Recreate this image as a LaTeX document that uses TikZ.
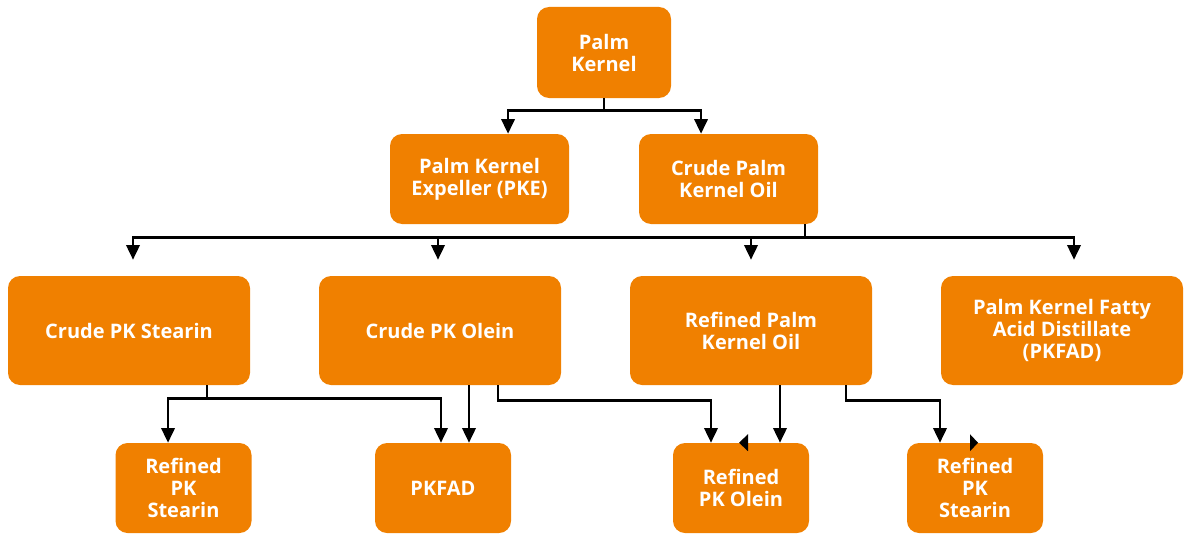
\documentclass[tikz,border=0pt]{standalone}
\usepackage{fontspec}
\setmainfont{Open Sans}
\usetikzlibrary{arrows.meta,positioning}
\definecolor{naranja}{RGB}{240,128,0}
\tikzset{
  caja/.style={fill=naranja, rounded corners=9pt, text=white, align=center, inner sep=2pt, font=\bfseries\fontsize{15}{16.5}\selectfont},
  raiz/.style={caja, minimum width=100.5pt, minimum height=68.25pt},
  medio/.style={caja, minimum width=134.25pt, minimum height=67.5pt},
  ancho/.style={caja, minimum width=181.5pt, minimum height=81.75pt},
  hoja/.style={caja, minimum width=102pt, minimum height=67.5pt},
  linea/.style={line width=1.9pt, black},
  fl/.style={linea, -{Triangle[length=11pt,width=10pt]}},
}
\begin{document}
\begin{tikzpicture}[x=0.75pt, y=-0.75pt]
  \useasboundingbox (0,0) rectangle (1184,535);
  % nodes
  \node[raiz] (palm) at (604,52.5) {Palm\\Kernel};
  \node[medio] (pke) at (479.5,179) {Palm Kernel\\Expeller (PKE)};
  \node[medio] (cpko) at (728.5,179) {Crude Palm\\Kernel Oil};
  \node[ancho] (cpks) at (129,330.5) {Crude PK Stearin};
  \node[ancho] (cpol) at (440,330.5) {Crude PK Olein};
  \node[ancho] (rpko) at (751,330.5) {Refined Palm\\Kernel Oil};
  \node[ancho] (pkfadl) at (1062,330.5) {Palm Kernel Fatty\\Acid Distillate\\(PKFAD)};
  \node[hoja] (rpks) at (183.5,488) {Refined\\PK\\Stearin};
  \node[hoja] (pkfad) at (443,488) {PKFAD};
  \node[hoja] (rpol) at (741,488) {Refined\\PK Olein};
  \node[hoja] (rpksb) at (975,488) {Refined\\PK\\Stearin};
  % palm kernel split
  \draw[fl] (palm.south) -- ++(0,12) -| ([xshift=21.4pt]pke.north);
  \draw[fl] (palm.south) -- ++(0,12) -| ([xshift=-20.6pt]cpko.north);
  % crude oil fractions
  \coordinate (bus) at ([xshift=57.4pt,yshift=-9.75pt]cpko.south);
  \coordinate (t1) at ([xshift=3pt,yshift=12pt]cpks.north);
  \coordinate (t2) at ([xshift=-1.5pt,yshift=12pt]cpol.north);
  \coordinate (t3) at ([yshift=12pt]rpko.north);
  \coordinate (t4) at ([xshift=9pt,yshift=12pt]pkfadl.north);
  \draw[linea] ([xshift=57.4pt]cpko.south) -- (bus);
  \foreach \t in {t1,t2,t3,t4}
    \draw[fl] (bus) -| (\t);
  % refining
  \draw[fl] ([xshift=58.5pt]cpks.south) -- ++(0,13) -| ([xshift=-11.6pt]rpks.north);
  \draw[fl] ([xshift=58.5pt]cpks.south) -- ++(0,13) -| ([xshift=-1.5pt]pkfad.north);
  \draw[fl] ([xshift=21.75pt]cpol.south) -- ([xshift=21.75pt]cpol.south |- pkfad.north);
  \draw[fl] ([xshift=43.5pt]cpol.south) -- ++(0,15) -| ([xshift=-22.5pt]rpol.north);
  \draw[fl] ([xshift=21.75pt]rpko.south) -- ([xshift=21.75pt]rpko.south |- rpol.north);
  \draw[fl] ([xshift=71.25pt]rpko.south) -- ++(0,15) -| ([xshift=-26.25pt]rpksb.north);
  % stray heads
  \fill ([xshift=-1.5pt]rpol.north) -- ++(9,-8.5) -- ++(0,17) -- cycle;
  \fill ([xshift=2.25pt]rpksb.north) -- ++(-8,-8.5) -- ++(0,17) -- cycle;
\end{tikzpicture}
\end{document}
